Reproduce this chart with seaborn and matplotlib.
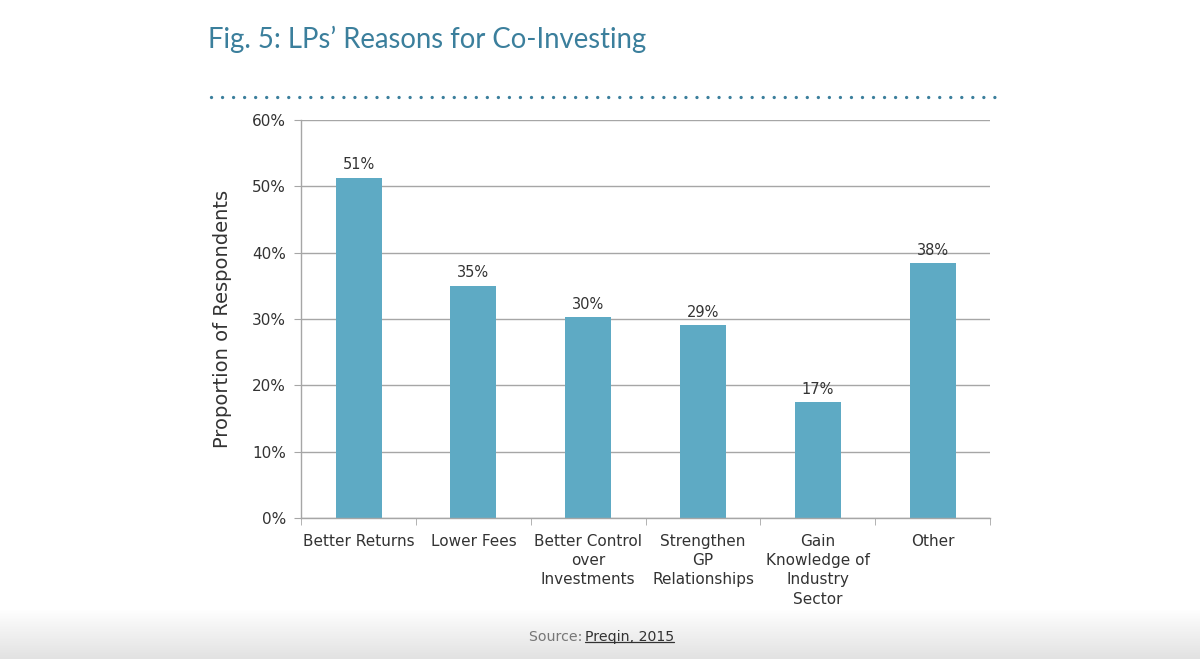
import numpy as np
import pandas as pd
import matplotlib.pyplot as plt
import seaborn as sns
from matplotlib.lines import Line2D
from matplotlib.colors import LinearSegmentedColormap
from matplotlib.ticker import PercentFormatter

# Chart data
reasons = ["Better Returns", "Lower Fees", "Better Control\nover\nInvestments",
           "Strengthen\nGP\nRelationships", "Gain\nKnowledge of\nIndustry\nSector", "Other"]
shares = [51.3, 35.0, 30.3, 29.1, 17.5, 38.4]
share_labels = ["51%", "35%", "30%", "29%", "17%", "38%"]
y_ticks = [0, 10, 20, 30, 40, 50, 60]

df = pd.DataFrame({"reason": reasons, "share": shares})

sns.set_style("white")
plt.rcParams["font.family"] = ["DejaVu Sans"]

bar_color = "#5eaac4"
title_color = "#3b7f9c"
grid_color = "#a6a6a6"
text_color = "#333333"

fig = plt.figure(figsize=(12, 6.59), dpi=100)
ax = fig.add_axes([0.251, 0.214, 0.574, 0.604])

sns.barplot(data=df, x="reason", y="share", color=bar_color, width=0.4,
            saturation=1, linewidth=0, ax=ax)

for i, (v, lab) in enumerate(zip(shares, share_labels)):
    ax.text(i, v + 0.8, lab, ha="center", va="bottom", fontsize=10.5, color=text_color)

ax.set_ylim(0, 60)
ax.set_xlim(-0.5, len(reasons) - 0.5)
ax.set_yticks(y_ticks)
ax.yaxis.set_major_formatter(PercentFormatter(decimals=0))
ax.yaxis.grid(True, color=grid_color, linewidth=1)
ax.set_axisbelow(True)

for s in ["top", "right"]:
    ax.spines[s].set_visible(False)
for s in ["left", "bottom"]:
    ax.spines[s].set_color(grid_color)
    ax.spines[s].set_linewidth(1)

ax.set_xlabel("")
ax.set_ylabel("Proportion of Respondents", fontsize=14, color=text_color, labelpad=14)
ax.tick_params(axis="y", left=True, length=5, color=grid_color, labelsize=11,
               labelcolor=text_color, pad=6)
ax.tick_params(axis="x", which="major", bottom=False, labelsize=11,
               labelcolor=text_color, pad=8)
ax.set_xticks(np.arange(-0.5, len(reasons)), minor=True)
ax.tick_params(axis="x", which="minor", bottom=True, length=5, color=grid_color)
for lbl in ax.get_xticklabels():
    lbl.set_multialignment("center")
    lbl.set_linespacing(1.35)

fig.text(0.173, 0.94, "Fig. 5: LPs\u2019 Reasons for Co-Investing", fontsize=19.8,
         color=title_color, family=["Lato", "DejaVu Sans"], va="center")

fig.add_artist(Line2D([0.176, 0.829], [0.853, 0.853], transform=fig.transFigure,
                      color=title_color, linewidth=2.4,
                      linestyle=(0, (0.01, 3.3)), dash_capstyle="round"))

# soft grey shadow at the bottom of the page
grad = np.linspace(0, 1, 80).reshape(-1, 1)
shade = LinearSegmentedColormap.from_list("shade", ["#ffffff", "#f0f0f0", "#e2e2e2"])
bg = fig.add_axes([0, 0, 1, 0.075], zorder=-1)
bg.imshow(grad, aspect="auto", cmap=shade, extent=[0, 1, 0, 1], origin="upper")
bg.axis("off")

fig.text(0.441, 0.034, "Source: ", fontsize=10.2, color="#777777", ha="left", va="center")
src = fig.text(0.4875, 0.034, "Preqin, 2015", fontsize=10.2, color="#333333", ha="left",
               va="center")
fig.canvas.draw()
bb = src.get_window_extent().transformed(fig.transFigure.inverted())
fig.add_artist(Line2D([bb.x0, bb.x1], [bb.y0 + 0.002, bb.y0 + 0.002],
                      transform=fig.transFigure, color="#333333", linewidth=0.9))

fig.savefig("out.png", dpi=100)
